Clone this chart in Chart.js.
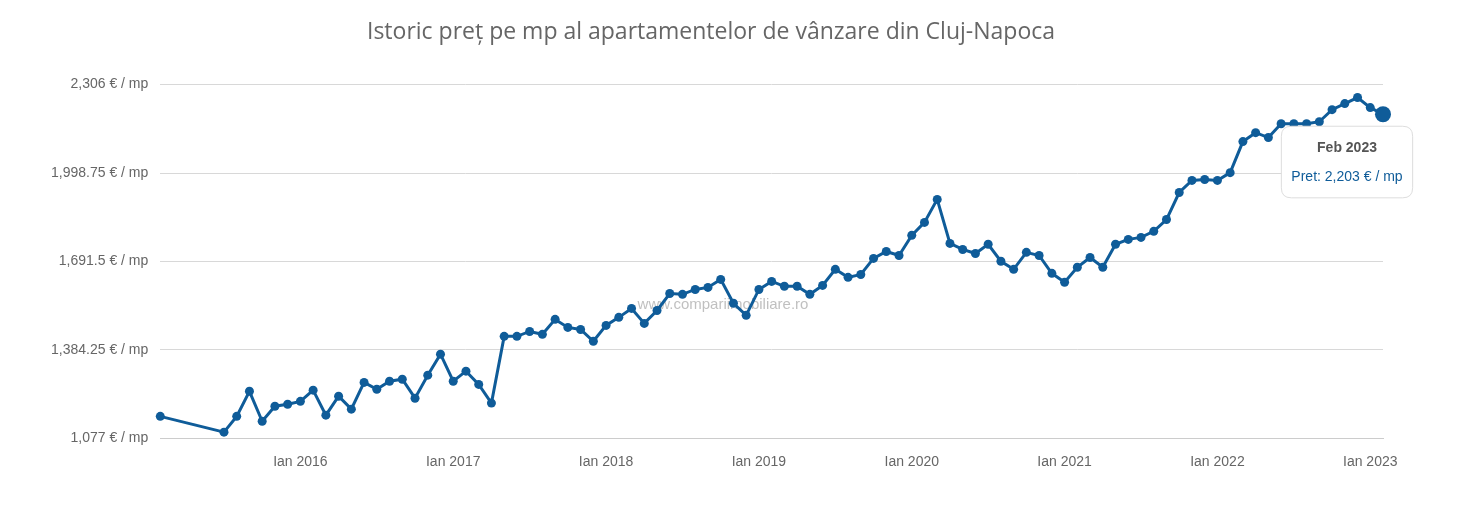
<!DOCTYPE html>
<html>
<head>
<meta charset="utf-8">
<script src="https://cdn.jsdelivr.net/npm/chart.js@4"></script>
<style>
	html, body { margin: 0; padding: 0; background: #fff; }
	#wrap { width: 1479px; height: 527px; }
</style>
</head>
<body>
<div id="wrap"><canvas id="priceChart"></canvas></div>
<script>
// Data
const MONTHS_EN = ['Jan', 'Feb', 'Mar', 'Apr', 'May', 'Jun', 'Jul', 'Aug', 'Sep', 'Oct', 'Nov', 'Dec'];

const prices2015 = [null, 1153, null, null, null, null, 1098, 1153, 1240, 1136, 1188, 1195];
const prices2016 = [1205, 1244, 1157, 1223, 1178, 1271, 1247, 1275, 1282, 1216, 1296, 1369];
const prices2017 = [1275, 1310, 1264, 1199, 1431, 1431, 1448, 1438, 1490, 1462, 1455, 1414];
const prices2018 = [1469, 1497, 1528, 1476, 1521, 1580, 1577, 1594, 1601, 1629, 1546, 1504];
const prices2019 = [1594, 1622, 1605, 1605, 1577, 1608, 1664, 1636, 1646, 1702, 1726, 1712];
const prices2020 = [1782, 1827, 1907, 1754, 1733, 1719, 1751, 1692, 1664, 1723, 1712, 1650];
const prices2021 = [1619, 1671, 1705, 1671, 1751, 1768, 1775, 1796, 1837, 1931, 1973, 1976];
const prices2022 = [1973, 2000, 2108, 2139, 2122, 2170, 2170, 2170, 2177, 2219, 2240, 2261];
const prices2023 = [2226, 2203];

const yTicks = [1077, 1384.25, 1691.5, 1998.75, 2306];

// Build monthly labels starting Feb 2015
const allPrices = [].concat(prices2015, prices2016, prices2017, prices2018, prices2019,
	prices2020, prices2021, prices2022, prices2023).slice(1);
let labels = [];
let months = [];
for (let i = 0; i < allPrices.length; i++) {
	let m = (i + 1) % 12;
	let y = 2015 + Math.floor((i + 1) / 12);
	labels.push(m === 0 ? 'Ian ' + y : '');
	months.push(MONTHS_EN[m] + ' ' + y);
}

const fmt = (v) => v.toLocaleString('en-US', { maximumFractionDigits: 2 });

// Watermark
const watermark = {
	id: 'watermark',
	beforeDatasetsDraw(chart) {
		const ctx = chart.ctx;
		ctx.save();
		ctx.font = '15px "Liberation Sans", Arial, sans-serif';
		ctx.fillStyle = 'rgba(150,150,150,0.6)';
		ctx.textAlign = 'center';
		ctx.textBaseline = 'middle';
		ctx.fillText('www.compariimobiliare.ro', 723, 305);
		ctx.restore();
	}
};

// Tooltip sits below and a bit left of the point
Chart.Tooltip.positioners.belowLeft = (elements) => {
	if (!elements.length) return false;
	const el = elements[0].element;
	return { x: el.x - 36, y: el.y + 12 };
};

const blue = '#0f5c99';
const last = allPrices.length - 1;

const chart = new Chart(document.getElementById('priceChart'), {
	type: 'line',
	data: {
		labels: labels,
		datasets: [{
			label: 'Pret',
			data: allPrices,
			borderColor: blue,
			backgroundColor: blue,
			borderWidth: 3,
			pointRadius: allPrices.map((_, i) => i === last ? 8 : 4.5),
			pointHoverRadius: 8,
			pointBorderWidth: 0,
			spanGaps: true,
			tension: 0
		}]
	},
	options: {
		responsive: true,
		maintainAspectRatio: false,
		animation: false,
		events: [],
		layout: { padding: { top: 17, right: 96, left: 39, bottom: 40 } },
		plugins: {
			legend: { display: false },
			title: {
				display: true,
				text: 'Istoric preț pe mp al apartamentelor de vânzare din Cluj-Napoca',
				color: '#666',
				font: { family: '"Open Sans", sans-serif', size: 23, weight: 'normal' },
				padding: { top: 2, bottom: 38 }
			},
			tooltip: {
				enabled: true,
				position: 'belowLeft',
				backgroundColor: '#fff',
				borderColor: '#ddd',
				borderWidth: 1,
				cornerRadius: 10,
				caretSize: 0,
				caretPadding: 0,
				padding: { top: 14, bottom: 12, left: 10, right: 10 },
				yAlign: 'top',
				xAlign: 'center',
				displayColors: false,
				titleColor: '#555',
				titleAlign: 'center',
				bodyAlign: 'center',
				titleFont: { family: '"Liberation Sans", Arial, sans-serif', size: 14, weight: 'bold' },
				bodyFont: { family: '"Liberation Sans", Arial, sans-serif', size: 14 },
				titleMarginBottom: 12,
				bodyColor: blue,
				callbacks: {
					title: (items) => months[items[0].dataIndex],
					label: (item) => 'Pret: ' + fmt(item.raw) + ' € / mp'
				}
			}
		},
		scales: {
			x: {
				offset: false,
				grid: { display: false, drawTicks: false },
				border: { color: '#ccc' },
				ticks: {
					autoSkip: false,
					maxRotation: 0,
					color: '#666',
					padding: 16,
					font: { family: '"Liberation Sans", Arial, sans-serif', size: 14 },
					callback: (v, i) => labels[i]
				}
			},
			y: {
				min: 1077,
				max: 2306,
				afterBuildTicks: (axis) => { axis.ticks = yTicks.map(v => ({ value: v })); },
				grid: { color: '#d8d8d8', drawTicks: false },
				border: { display: false },
				ticks: {
					color: '#666',
					padding: 12,
					font: { family: '"Liberation Sans", Arial, sans-serif', size: 14 },
					callback: (v) => fmt(v) + ' € / mp'
				}
			}
		}
	},
	plugins: [watermark]
});

// Show the tooltip on the last point, as in the picture
const lastPt = chart.getDatasetMeta(0).data[last];
chart.tooltip.setActiveElements([{ datasetIndex: 0, index: last }], { x: lastPt.x, y: lastPt.y });
chart.update();
</script>
</body>
</html>
